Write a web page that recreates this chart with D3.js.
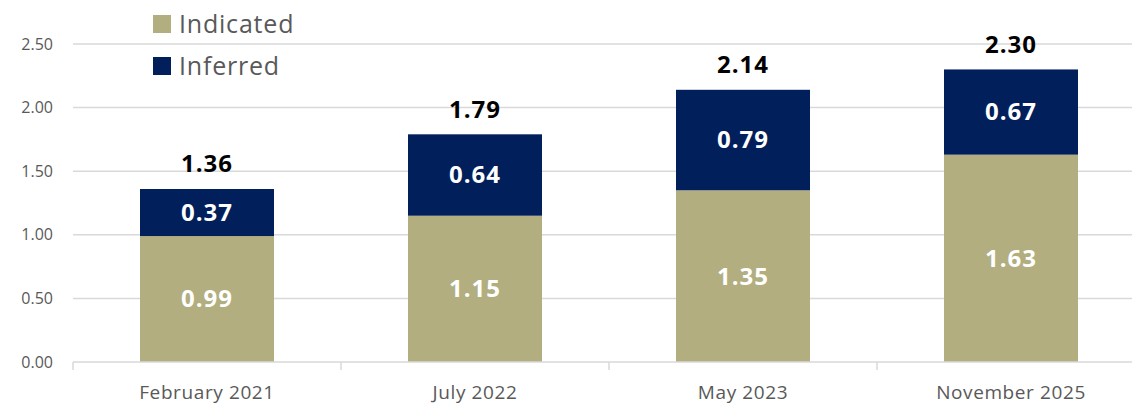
<!DOCTYPE html>
<html lang="en">
<head>
  <meta charset="UTF-8">
  <script src="https://d3js.org/d3.v7.min.js"></script>
  <title>Indicated / Inferred</title>
  <style>
    body { margin: 0; background: #fff; }
    text { font-family: "Open Sans", sans-serif; }
  </style>
</head>
<body>
  <svg width="1132" height="404"></svg>
  <script>
    const categories = ["February 2021", "July 2022", "May 2023", "November 2025"];
    const indicated = [0.99, 1.15, 1.35, 1.63];
    const inferred = [0.37, 0.64, 0.79, 0.67];
    const totals = [1.36, 1.79, 2.14, 2.30];
    const yTicks = [0, 0.5, 1, 1.5, 2, 2.5];

    const colors = { indicated: "#b2ae80", inferred: "#001f5b" };

    const svg = d3.select("svg");
    const x = d3.scaleBand().domain(categories).range([73, 1145]).paddingInner(0.5).paddingOuter(0.25);
    const y = d3.scaleLinear().domain([0, 2.5]).range([362, 44]);

    // gridlines
    svg.append("g").selectAll("line")
      .data(yTicks.slice(1))
      .enter().append("line")
      .attr("x1", 73).attr("x2", 1145)
      .attr("y1", d => y(d)).attr("y2", d => y(d))
      .attr("stroke", "#d9d9d9").attr("stroke-width", 1.5);

    // y labels
    svg.append("g").selectAll("text")
      .data(yTicks)
      .enter().append("text")
      .attr("x", 53).attr("y", d => y(d))
      .attr("dy", "0.35em")
      .attr("text-anchor", "end")
      .attr("fill", "#595959")
      .style("font-size", "16px")
      .text(d => d3.format(".2f")(d));

    // stacked bars
    const rows = categories.map((c, i) => ({ cat: c, ind: indicated[i], inf: inferred[i], tot: totals[i] }));
    const g = svg.append("g");
    g.selectAll("rect.ind").data(rows).enter().append("rect")
      .attr("class", "ind")
      .attr("x", d => x(d.cat)).attr("width", x.bandwidth())
      .attr("y", d => y(d.ind)).attr("height", d => y(0) - y(d.ind))
      .attr("fill", colors.indicated);
    g.selectAll("rect.inf").data(rows).enter().append("rect")
      .attr("class", "inf")
      .attr("x", d => x(d.cat)).attr("width", x.bandwidth())
      .attr("y", d => y(d.ind + d.inf)).attr("height", d => y(d.ind) - y(d.ind + d.inf))
      .attr("fill", colors.inferred);

    // x axis
    const step = x.step();
    svg.append("line")
      .attr("x1", 73).attr("x2", 1145).attr("y1", y(0)).attr("y2", y(0))
      .attr("stroke", "#d9d9d9").attr("stroke-width", 1.5);
    svg.append("g").selectAll("line")
      .data(d3.range(categories.length + 1))
      .enter().append("line")
      .attr("x1", i => 73 + i * step).attr("x2", i => 73 + i * step)
      .attr("y1", y(0)).attr("y2", y(0) + 8)
      .attr("stroke", "#d9d9d9").attr("stroke-width", 1.5);
    svg.append("g").selectAll("text")
      .data(categories)
      .enter().append("text")
      .attr("x", d => x(d) + x.bandwidth() / 2).attr("y", 399)
      .attr("text-anchor", "middle")
      .attr("fill", "#595959")
      .style("font-size", "19px")
      .style("letter-spacing", "0.6px")
      .text(d => d);

    // value labels
    const lbl = svg.append("g").attr("text-anchor", "middle").style("font-weight", "bold")
      .style("font-size", "24px").style("letter-spacing", "1px");
    lbl.selectAll("text.ind").data(rows).enter().append("text")
      .attr("x", d => x(d.cat) + x.bandwidth() / 2)
      .attr("y", d => (y(0) + y(d.ind)) / 2).attr("dy", "0.35em")
      .attr("fill", "#fff").text(d => d.ind.toFixed(2));
    lbl.selectAll("text.inf").data(rows).enter().append("text")
      .attr("x", d => x(d.cat) + x.bandwidth() / 2)
      .attr("y", d => (y(d.ind) + y(d.ind + d.inf)) / 2).attr("dy", "0.35em")
      .attr("fill", "#fff").text(d => d.inf.toFixed(2));
    lbl.selectAll("text.tot").data(rows).enter().append("text")
      .attr("x", d => x(d.cat) + x.bandwidth() / 2)
      .attr("y", d => y(d.tot) - 25).attr("dy", "0.35em")
      .attr("fill", "#000").text(d => d.tot.toFixed(2));

    // legend
    const legend = [["Indicated", colors.indicated], ["Inferred", colors.inferred]];
    const lg = svg.append("g");
    legend.forEach(([name, col], i) => {
      lg.append("rect").attr("x", 153).attr("y", 15 + i * 42).attr("width", 18).attr("height", 18).attr("fill", col);
      lg.append("text").attr("x", 179).attr("y", 24 + i * 42).attr("dy", "0.35em")
        .attr("fill", "#595959").style("font-size", "25px").style("letter-spacing", "0.8px").text(name);
    });
  </script>
</body>
</html>
